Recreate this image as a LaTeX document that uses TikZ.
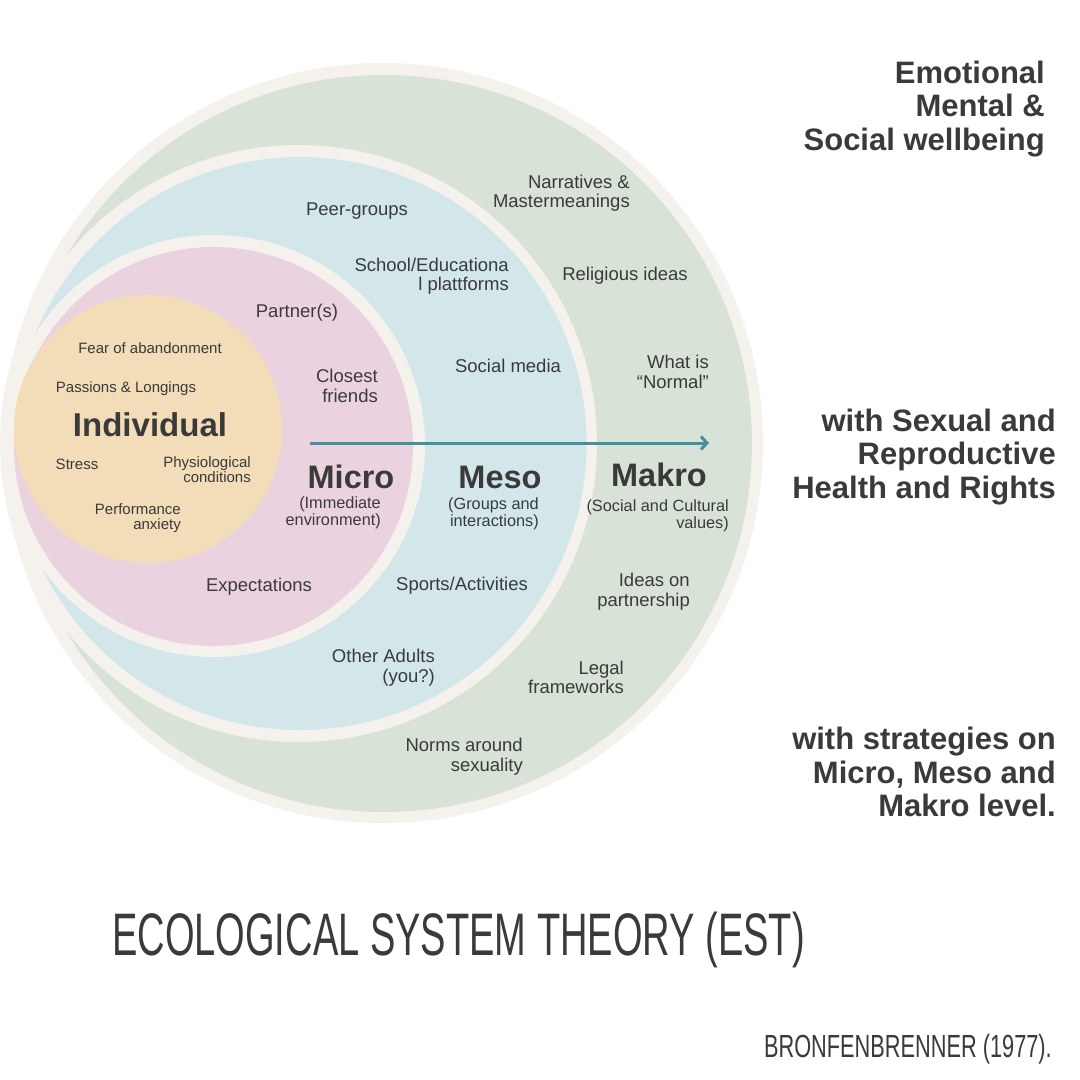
\documentclass[tikz,border=0pt]{standalone}
\usepackage{fontspec}
\usepackage{graphicx}
\setmainfont{Liberation Sans}
\usetikzlibrary{arrows.meta}
\definecolor{ringc}{HTML}{F5F2EE}
\definecolor{greenc}{HTML}{D8E2D7}
\definecolor{bluec}{HTML}{D3E7EA}
\definecolor{pinkc}{HTML}{EAD3DF}
\definecolor{orangec}{HTML}{F3DCB8}
\definecolor{txtc}{HTML}{3A3A3A}
\definecolor{arrowc}{HTML}{45909A}
\tikzset{
  lab/.style={inner sep=0pt, text=txtc, align=right, font=\fontsize{18.5}{19.5}\selectfont},
  smalllab/.style={inner sep=0pt, text=txtc, align=right, font=\fontsize{15}{15}\selectfont},
  parlab/.style={inner sep=0pt, text=txtc, align=right, font=\fontsize{16.3}{17}\selectfont},
  levellab/.style={inner sep=0pt, text=txtc, font=\fontsize{32.5}{34}\selectfont\bfseries},
  sidelab/.style={inner sep=0pt, text=txtc, align=right, font=\fontsize{31}{33.5}\selectfont\bfseries},
  titlelab/.style={inner sep=0pt, text=txtc},
}
\begin{document}
\begin{tikzpicture}[x=1pt,y=-1pt]
\useasboundingbox[fill=white] (0,0) rectangle (1080,1080);
% circles
\fill[ringc] (383,443) circle[radius=380pt];
\fill[greenc] (383.5,443.5) circle[radius=368.5pt];
\fill[ringc] (298.5,443.5) circle[radius=298.5pt];
\fill[bluec] (300,443.5) circle[radius=286.5pt];
\fill[ringc] (214,446) circle[radius=211pt];
\fill[pinkc] (213.5,446.5) circle[radius=199.5pt];
\fill[orangec] (148,429) circle[radius=134pt];
% arrow
\coordinate (as) at (310,443);
\coordinate (ae) at (709,443);
\draw[arrowc, line width=3pt, -{Straight Barb[length=6pt,width=13pt]}] (as) -- (ae);
% individual
\node[smalllab] (fear) at (150,348) {Fear of abandonment};
\node[smalllab] (pass) at (126,389) {Passions \& Longings};
\node[levellab, font=\fontsize{33}{34}\selectfont\bfseries] (indiv) at (150,425) {Individual};
\node[smalllab] (stress) at (77,464) {Stress};
\node[smalllab, anchor=east] (phys) at (251,470) {Physiological\\conditions};
\node[smalllab, anchor=east] (perf) at (181,518) {Performance\\anxiety};
% micro
\node[lab] (partner) at (297,313) {Partner(s)};
\node[lab, anchor=east] (closest) at (378,386) {Closest\\friends};
\node[levellab] (micro) at (351,477) {Micro};
\node[parlab, anchor=east] (immed) at (381,512.5) {(Immediate\\environment)};
\node[lab] (expect) at (259,587) {Expectations};
% meso
\node[lab] (peer) at (357,211) {Peer-groups};
\node[lab, anchor=east] (school) at (509,276) {School/Educationa\\l plattforms};
\node[lab] (social) at (508,366) {Social media};
\node[levellab] (meso) at (500,477) {Meso};
\node[parlab, anchor=east] (groups) at (539,513.5) {(Groups and\\interactions)};
\node[lab] (sports) at (462,586) {Sports/Activities};
\node[lab, anchor=east] (adults) at (435,667.5) {Other Adults\\(you?)};
% makro
\node[lab, anchor=east] (narr) at (630,193) {Narratives \&\\Mastermeanings};
\node[lab] (relig) at (625,276) {Religious ideas};
\node[lab, anchor=east] (normal) at (709,372) {What is\\“Normal”};
\node[levellab] (makro) at (659,475) {Makro};
\node[parlab, anchor=east] (values) at (729,515.5) {(Social and Cultural\\values)};
\node[lab, anchor=east] (ideas) at (690,591.5) {Ideas on\\partnership};
\node[lab, anchor=east] (legal) at (624,677.5) {Legal\\frameworks};
\node[lab, anchor=east] (norms) at (523,756.5) {Norms around\\sexuality};
% side texts
\node[sidelab, anchor=east] (emo) at (1045,109) {Emotional\\Mental \&\\Social wellbeing};
\node[sidelab, anchor=east] (srhr) at (1056,457) {with Sexual and\\Reproductive\\Health and Rights};
\node[sidelab, anchor=east] (strat) at (1056,772) {with strategies on\\Micro, Meso and\\Makro level.};
% title
\node[titlelab, anchor=base west] (title) at (112,955) {\scalebox{0.634}[1]{\fontsize{60}{60}\selectfont ECOLOGICAL SYSTEM THEORY (EST)}};
\node[titlelab, anchor=base east] (bronf) at (1052,1057) {\scalebox{0.68}[1]{\fontsize{32}{32}\selectfont BRONFENBRENNER (1977).}};
\end{tikzpicture}
\end{document}
